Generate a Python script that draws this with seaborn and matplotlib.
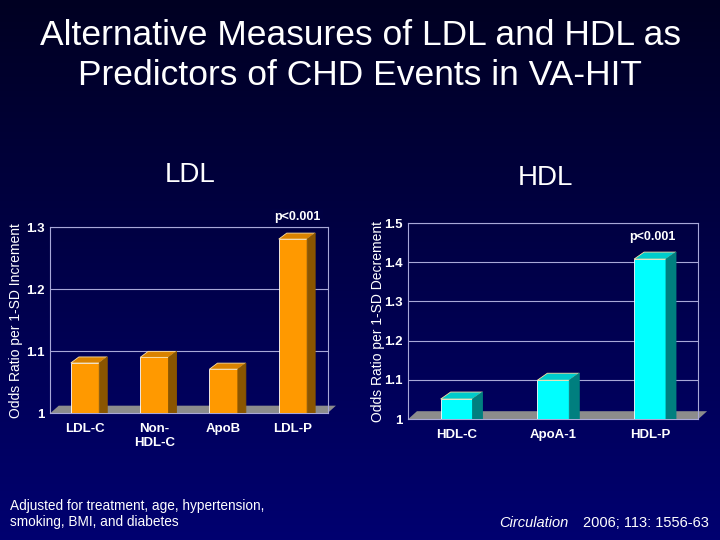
import numpy as np
import pandas as pd
import matplotlib
matplotlib.use('Agg')
import matplotlib.pyplot as plt
from matplotlib.patches import Polygon, Rectangle
from matplotlib.ticker import FuncFormatter
import seaborn as sns

# dados
ldl_labels = ['LDL-C', 'Non-\nHDL-C', 'ApoB', 'LDL-P']
ldl_values = [1.081, 1.090, 1.071, 1.281]
hdl_labels = ['HDL-C', 'ApoA-1', 'HDL-P']
hdl_values = [1.051, 1.099, 1.408]

sns.set_style('white')
plt.rcParams['font.family'] = ['Liberation Sans', 'DejaVu Sans']

GRID = '#a8a8d8'


def fundo_gradiente(fig):
    bg = fig.add_axes([0, 0, 1, 1], zorder=-10)
    grad = np.linspace(0, 1, 256)[:, None]
    top = np.array([0, 0, 34]) / 255
    bot = np.array([0, 0, 112]) / 255
    img = top + (bot - top) * grad[..., None]
    img = np.repeat(img, 2, axis=1)
    bg.imshow(img, aspect='auto', extent=[0, 1, 0, 1])
    bg.axis('off')


def barras_3d(ax, fig, front, side, depth=(9, 7)):
    fig.canvas.draw()
    dx, dy = depth
    barras = [p for p in ax.patches if isinstance(p, Rectangle)]
    for p in barras:
        x0, y0 = p.get_x(), p.get_y()
        x1, y1 = x0 + p.get_width(), y0 + p.get_height()
        (px0, py0), (px1, py1) = ax.transData.transform([(x0, y0), (x1, y1)])
        topo = [(px0, py1), (px1, py1), (px1 + dx, py1 + dy), (px0 + dx, py1 + dy)]
        lado = [(px1, py0), (px1, py1), (px1 + dx, py1 + dy), (px1 + dx, py0 + dy)]
        ax.add_patch(Polygon(topo, closed=True, transform=None, facecolor=front,
                             edgecolor='#ffe0a0', lw=0.6, zorder=4))
        ax.add_patch(Polygon(lado, closed=True, transform=None, facecolor=side,
                             edgecolor=side, lw=0.6, zorder=4))


def painel(fig, rect, labels, values, ylim, yticks, ylabel, front, side, top_c,
           width, depth, lpad):
    ax = fig.add_axes(rect)
    ax.set_facecolor('none')
    df = pd.DataFrame({'medida': labels, 'odds': values})
    sns.barplot(data=df, x='medida', y='odds', ax=ax, color=front, width=width,
                edgecolor='#ffffff', linewidth=0.6, saturation=1, zorder=3)
    ax.set_ylim(*ylim)
    ax.set_xlim(-0.5, len(labels) - 0.5)
    ax.set_yticks(yticks)
    ax.yaxis.set_major_formatter(FuncFormatter(lambda v, _: f'{v:g}'))
    ax.grid(axis='y', color=GRID, lw=0.8, zorder=0)
    for s in ax.spines.values():
        s.set_color(GRID)
        s.set_linewidth(0.8)
    ax.tick_params(colors='white', labelsize=9.5, length=0)
    ax.tick_params(axis='y', pad=4)
    ax.tick_params(axis='x', pad=7)
    for t in ax.get_xticklabels() + ax.get_yticklabels():
        t.set_fontweight('bold')
        t.set_color('white')
    ax.set_xlabel('')
    ax.set_ylabel(ylabel, color='white', fontsize=10, labelpad=lpad)
    barras_3d(ax, fig, top_c, side, depth)
    # piso cinza
    ax.add_patch(Polygon([(0, 0), (1, 0), (1.03, 0.04), (0.03, 0.04)], closed=True,
                         transform=ax.transAxes, facecolor='#8c8c8c',
                         edgecolor='none', zorder=1, clip_on=False))
    return ax


fig = plt.figure(figsize=(7.2, 5.4), dpi=100)
fundo_gradiente(fig)

fig.text(0.5, 0.897, 'Alternative Measures of LDL and HDL as\nPredictors of CHD Events in VA-HIT',
         ha='center', va='center', color='white', fontsize=25.5, linespacing=1.25)

ax1 = painel(fig, [0.07, 0.235, 0.385, 0.344], ldl_labels, ldl_values,
             (1.0, 1.3), [1.0, 1.1, 1.2, 1.3], 'Odds Ratio per 1-SD Increment',
             '#ff9900', '#8a5500', '#d98200', 0.41, (8, 6), 2)
ax2 = painel(fig, [0.567, 0.224, 0.403, 0.363], hdl_labels, hdl_values,
             (1.0, 1.5), [1.0, 1.1, 1.2, 1.3, 1.4, 1.5], 'Odds Ratio per 1-SD Decrement',
             '#00ffff', '#007f7f', '#00cccc', 0.33, (10, 7), -1)

fig.text(0.264, 0.676, 'LDL', ha='center', va='center', color='white', fontsize=20)
fig.text(0.757, 0.670, 'HDL', ha='center', va='center', color='white', fontsize=20)

fig.text(0.413, 0.598, 'p<0.001', ha='center', va='center', color='white',
         fontsize=9, fontweight='bold',
         bbox=dict(facecolor='#000042', edgecolor='none', pad=1.5))
ax2.text(2.02, 1.465, 'p<0.001', ha='center', va='center', color='white',
         fontsize=9, fontweight='bold')

fig.text(0.014, 0.048, 'Adjusted for treatment, age, hypertension,\nsmoking, BMI, and diabetes',
         ha='left', va='center', color='white', fontsize=9.8, linespacing=1.2)
fig.text(0.693, 0.031, 'Circulation', ha='left', va='center',
         color='white', fontsize=10.5, style='italic')
fig.text(0.984, 0.031, '2006; 113: 1556-63', ha='right', va='center',
         color='white', fontsize=10.5)

fig.savefig('out.png', dpi=100)
